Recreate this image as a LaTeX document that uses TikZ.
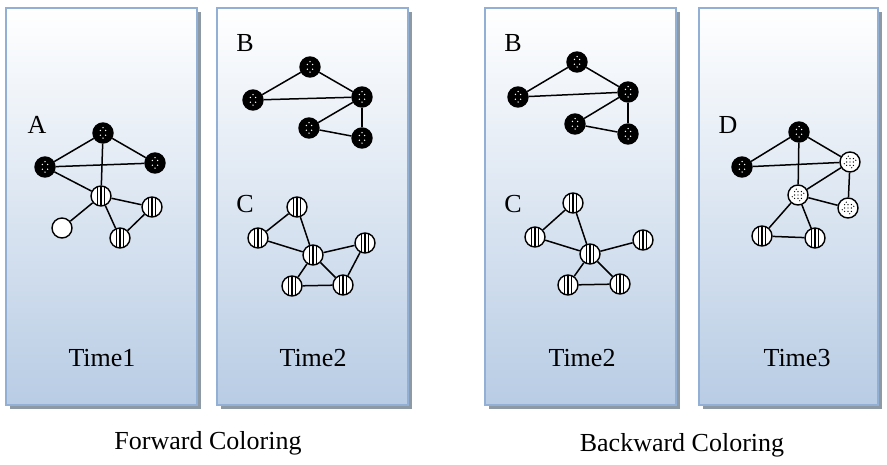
\documentclass[tikz,border=0pt]{standalone}
\usepackage{fontspec}
\setmainfont{Liberation Serif}
\usetikzlibrary{calc}
\definecolor{panelborder}{RGB}{146,176,214}
\definecolor{panelbottom}{RGB}{184,204,228}
\definecolor{panelshadow}{RGB}{142,153,166}
\tikzset{
  panelbox/.style={line width=2.8pt, draw=panelborder, top color=white, bottom color=panelbottom, middle color={panelbottom!50!white}},
  shadowbox/.style={fill=panelshadow, draw=none},
  vtx/.style={circle, minimum size=20pt, inner sep=0pt, line width=1.4pt, draw=black},
  blk/.style={vtx, fill=black, path picture={
      \foreach \dx/\dy in {-2.6/-2.6, 2.6/-2.6, -2.6/2.2, 2.6/2.2, 0/5, 0/-5.5}
        \fill[white] ($(path picture bounding box.center)+(\dx,\dy)$) circle (0.75pt);}},
  strp/.style={vtx, fill=white, path picture={
      \foreach \dx in {-3.6, 0, 3.6}
        \draw[line width=1.4pt] ($(path picture bounding box.center)+(\dx,-12)$) -- ($(path picture bounding box.center)+(\dx,12)$);}},
  dotn/.style={vtx, fill=white, path picture={
      \foreach \dx in {-3.4, 0, 3.4} \foreach \dy in {-3.4, 0, 3.4}
        \fill[black] ($(path picture bounding box.center)+(\dx,\dy)$) circle (0.7pt);
      \foreach \dx/\dy in {-1.7/-5.8, 1.7/5.8, -5.8/1.7, 5.8/-1.7}
        \fill[black] ($(path picture bounding box.center)+(\dx,\dy)$) circle (0.65pt);}},
  wht/.style={vtx, fill=white},
  edge/.style={line width=1.5pt, draw=black},
  lbl/.style={font=\fontsize{26}{30}\selectfont, inner sep=0pt}
}
\begin{document}
\begin{tikzpicture}[x=1pt,y=-1pt]
\useasboundingbox (0,0) rectangle (887,464);
\fill[white] (0,0) rectangle (887,464);
% panels
\foreach \xa/\xb in {6/197, 217/408, 485/676, 699/878} {
  \fill[shadowbox] (\xa+4,12) rectangle (\xb+4,409);
  \path[panelbox] (\xa,8) rectangle (\xb,405);
}
% ---------- panel 1 ----------
\node[lbl] (lA) at (37,125) {A};
\node[blk] (a1) at (103,133) {};
\node[blk] (a2) at (45,167) {};
\node[blk] (a3) at (155,163) {};
\node[strp] (a4) at (101,196) {};
\node[strp] (a5) at (152,207) {};
\node[wht] (a6) at (62,228) {};
\node[strp] (a7) at (120,238) {};
\draw[edge] (a1) -- (a2); \draw[edge] (a1) -- (a3); \draw[edge] (a1) -- (a4);
\draw[edge] (a2) -- (a3); \draw[edge] (a2) -- (a4); \draw[edge] (a4) -- (a6);
\draw[edge] (a4) -- (a5); \draw[edge] (a4) -- (a7); \draw[edge] (a5) -- (a7);
\node[lbl] (t1) at (102,358) {Time1};
% ---------- panel 2 ----------
\node[lbl] (lB1) at (245,43) {B};
\node[blk] (b1) at (310,67) {};
\node[blk] (b2) at (253,100) {};
\node[blk] (b3) at (362,97) {};
\node[blk] (b4) at (309,128) {};
\node[blk] (b5) at (362,138) {};
\draw[edge] (b2) -- (b1); \draw[edge] (b1) -- (b3); \draw[edge] (b2) -- (b3);
\draw[edge] (b3) -- (b4); \draw[edge] (b4) -- (b5); \draw[edge] (b3) -- (b5);
\node[lbl] (lC1) at (245,204) {C};
\node[strp] (c1) at (297,207) {};
\node[strp] (c2) at (258,238) {};
\node[strp] (c3) at (313,255) {};
\node[strp] (c4) at (365,243) {};
\node[strp] (c5) at (292,286) {};
\node[strp] (c6) at (343,285) {};
\draw[edge] (c1) -- (c2); \draw[edge] (c1) -- (c3); \draw[edge] (c2) -- (c3);
\draw[edge] (c3) -- (c4); \draw[edge] (c3) -- (c5); \draw[edge] (c3) -- (c6);
\draw[edge] (c5) -- (c6); \draw[edge] (c6) -- (c4);
\node[lbl] (t2) at (313,358) {Time2};
% ---------- panel 3 ----------
\node[lbl] (lB2) at (513,43) {B};
\node[blk] (d1) at (577,62) {};
\node[blk] (d2) at (518,97) {};
\node[blk] (d3) at (628,92) {};
\node[blk] (d4) at (575,124) {};
\node[blk] (d5) at (628,134) {};
\draw[edge] (d2) -- (d1); \draw[edge] (d1) -- (d3); \draw[edge] (d2) -- (d3);
\draw[edge] (d3) -- (d4); \draw[edge] (d4) -- (d5); \draw[edge] (d3) -- (d5);
\node[lbl] (lC2) at (513,204) {C};
\node[strp] (e1) at (573,203) {};
\node[strp] (e2) at (535,237) {};
\node[strp] (e3) at (590,254) {};
\node[strp] (e4) at (643,240) {};
\node[strp] (e5) at (568,285) {};
\node[strp] (e6) at (620,284) {};
\draw[edge] (e1) -- (e2); \draw[edge] (e1) -- (e3); \draw[edge] (e2) -- (e3);
\draw[edge] (e3) -- (e4); \draw[edge] (e3) -- (e5); \draw[edge] (e3) -- (e6);
\draw[edge] (e5) -- (e6);
\node[lbl] (t3) at (582,358) {Time2};
% ---------- panel 4 ----------
\node[lbl] (lD) at (728,125) {D};
\node[blk] (f1) at (799,132) {};
\node[blk] (f2) at (742,167) {};
\node[dotn] (f3) at (850,162) {};
\node[dotn] (f4) at (798,195) {};
\node[dotn] (f5) at (848,208) {};
\node[strp] (f6) at (762,236) {};
\node[strp] (f7) at (815,238) {};
\draw[edge] (f1) -- (f2); \draw[edge] (f1) -- (f3); \draw[edge] (f1) -- (f4);
\draw[edge] (f2) -- (f3); \draw[edge] (f3) -- (f4); \draw[edge] (f3) -- (f5);
\draw[edge] (f4) -- (f5); \draw[edge] (f4) -- (f6); \draw[edge] (f4) -- (f7);
\draw[edge] (f6) -- (f7);
\node[lbl] (t4) at (797,358) {Time3};
% captions
\node[lbl] (cap1) at (208,443) {Forward Coloring};
\node[lbl] (cap2) at (682,445) {Backward Coloring};
\end{tikzpicture}
\end{document}
